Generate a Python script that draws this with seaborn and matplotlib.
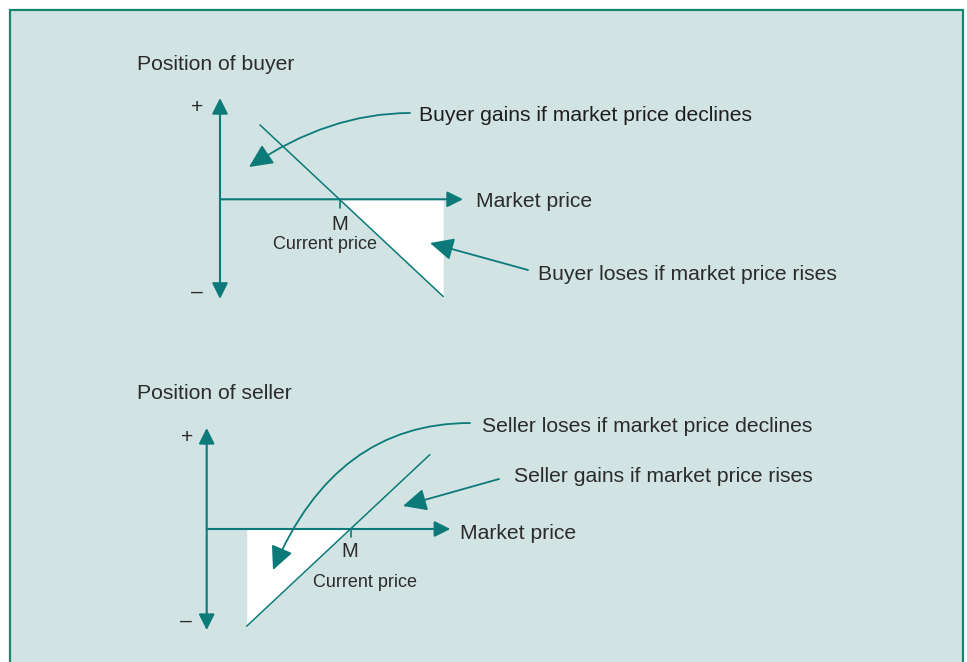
import matplotlib
matplotlib.use("Agg")
import matplotlib.pyplot as plt
import seaborn as sns
import numpy as np
from matplotlib.patches import Rectangle

# ---------------- data ----------------
buyer_price = [3.33, 18.6]      # market price range (M = 10 in top panel)
buyer_payoff = [6.2, -8.1]      # buyer profit / loss
buyer_M = 10.0
seller_price = [3.33, 18.6]     # market price range (M = 12 in bottom panel)
seller_payoff = [-8.1, 6.2]     # seller profit / loss
seller_M = 12.0

titles = ["Position of buyer", "Position of seller"]
axis_label = "Market price"
tick_label = "M"
tick_sub = "Current price"
notes_buyer = ["Buyer gains if market price declines", "Buyer loses if market price rises"]
notes_seller = ["Seller loses if market price declines", "Seller gains if market price rises"]

# ---------------- style ----------------
sns.set_theme(style="white")
plt.rcParams["font.family"] = ["Liberation Sans", "DejaVu Sans"]
TEAL = "#0b7a78"
BG = "#d2e3e3"
BORDER = "#13876f"
TXT = "#2b2b2b"
W, H = 967, 662
S = 12.0  # px per data unit

fig = plt.figure(figsize=(W / 100, H / 100), dpi=100, facecolor="white")

# background panel (pixel coords)
bg = fig.add_axes([0, 0, 1, 1], zorder=0)
bg.set_xlim(0, W); bg.set_ylim(H, 0); bg.axis("off")
bg.add_patch(Rectangle((9.5, 10), 963 - 9.5, 700, facecolor=BG, edgecolor=BORDER, lw=1.6, clip_on=False))


def panel(origin, price, payoff, M, fill_side, vmax, vmin, hmax):
    ox, oy = origin
    ax = fig.add_axes([0, 0, 1, 1], zorder=1)
    ax.set_facecolor("none")
    ax.set_xlim(-ox / S, (W - ox) / S)
    ax.set_ylim(-(H - oy) / S, oy / S)
    ax.axis("off")
    # white loss area
    if fill_side == "right":
        ax.fill_between([M, price[1]], [0, payoff[1]], 0, color="white", lw=0, zorder=1)
    else:
        ax.fill_between([price[0], M], [payoff[0], 0], 0, color="white", lw=0, zorder=1)
    # payoff line
    sns.lineplot(x=price, y=payoff, ax=ax, color=TEAL, lw=1.1, zorder=3)
    # axes arrows
    ax.annotate("", xy=(0, vmax), xytext=(0, vmin),
                arrowprops=dict(arrowstyle="<|-|>,head_length=0.6,head_width=0.3", mutation_scale=16,
                                color=TEAL, lw=1.5, shrinkA=0, shrinkB=0), zorder=2)
    ax.annotate("", xy=(hmax, 0), xytext=(0, 0),
                arrowprops=dict(arrowstyle="-|>,head_length=0.6,head_width=0.3", mutation_scale=16,
                                color=TEAL, lw=1.5, shrinkA=0, shrinkB=0), zorder=2)
    ax.plot([M, M], [0, -0.7], color=TEAL, lw=1.2, zorder=2)
    return ax


ax_top = panel((220, 199.3), buyer_price, buyer_payoff, buyer_M, "right", 8.44, -8.3, 20.25)
ax_bot = panel((206.7, 529), seller_price, seller_payoff, seller_M, "left", 8.42, -8.42, 20.3)

# overlay for text & annotation arrows (pixel coords)
ov = fig.add_axes([0, 0, 1, 1], zorder=5)
ov.set_facecolor("none")
ov.set_xlim(0, W); ov.set_ylim(H, 0); ov.axis("off")

F = 15.2
FS = 13
def t(x, y, s, size=F, ha="left", color=TXT):
    ov.text(x, y, s, fontsize=size, color=color, ha=ha, va="baseline")

# top panel texts
t(137, 70, titles[0])
t(197, 113, "+", ha="center")
t(197, 298, "–", ha="center")
t(476, 207, axis_label)
t(340, 230, tick_label, size=FS + 1.5, ha="center")
t(325, 249, tick_sub, size=FS, ha="center")
t(419, 121, notes_buyer[0], color="#1e1e1e")
t(538, 280, notes_buyer[1])

# bottom panel texts
t(137, 399, titles[1])
t(187, 443, "+", ha="center")
t(186, 627, "–", ha="center")
t(460, 539, axis_label)
t(350, 557, tick_label, size=FS + 1.5, ha="center")
t(365, 587, tick_sub, size=FS, ha="center")
t(482, 432, notes_seller[0])
t(514, 482, notes_seller[1])

ap = dict(arrowstyle="-|>,head_length=0.8,head_width=0.38", mutation_scale=18,
          color=TEAL, lw=1.3, shrinkA=0, shrinkB=0)
ov.annotate("", xy=(249, 167), xytext=(410, 113),
            arrowprops=dict(ap, connectionstyle="angle3,angleA=0,angleB=34"))
ov.annotate("", xy=(430, 243), xytext=(528, 270), arrowprops=ap)
ov.annotate("", xy=(273, 570), xytext=(470, 423),
            arrowprops=dict(ap, connectionstyle="angle3,angleA=0,angleB=67"))
ov.annotate("", xy=(403, 506), xytext=(499, 479), arrowprops=ap)

fig.savefig("out.png", dpi=100, facecolor="white")
